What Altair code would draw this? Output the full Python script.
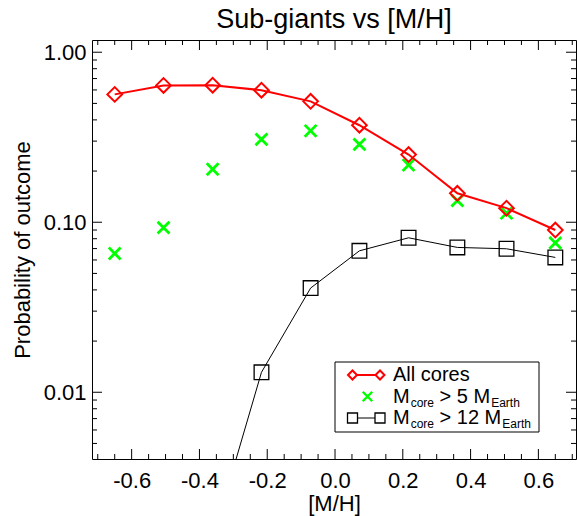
import altair as alt
import pandas as pd

# ---------------- data ----------------
mh = [-0.650, -0.506, -0.361, -0.217, -0.072, 0.072, 0.217, 0.361, 0.506, 0.650]
all_cores = [0.565, 0.638, 0.640, 0.598, 0.514, 0.372, 0.250, 0.148, 0.121, 0.090]
gt5 = [0.0655, 0.093, 0.205, 0.307, 0.345, 0.287, 0.217, 0.134, 0.113, 0.0756]
gt12 = [None, None, 0.00137, 0.0131, 0.041, 0.0679, 0.081, 0.0711, 0.0698, 0.0621]

x_major = [-0.6, -0.4, -0.2, 0.0, 0.2, 0.4, 0.6]
x_minor = [-0.70, -0.65, -0.55, -0.50, -0.45, -0.35, -0.30, -0.25, -0.15, -0.10, -0.05,
           0.05, 0.10, 0.15, 0.25, 0.30, 0.35, 0.45, 0.50, 0.55, 0.65, 0.70]
y_major = [0.01, 0.1, 1.0]
y_minor = [0.005, 0.006, 0.007, 0.008, 0.009,
           0.02, 0.03, 0.04, 0.05, 0.06, 0.07, 0.08, 0.09,
           0.2, 0.3, 0.4, 0.5, 0.6, 0.7, 0.8, 0.9]

X_DOMAIN = [-0.717, 0.711]
Y_DOMAIN = [0.00405, 1.18]

W, H = 484, 419
FONT = "Liberation Sans"

df_all = pd.DataFrame({"mh": mh, "p": all_cores})
df_5 = pd.DataFrame({"mh": mh, "p": gt5})
df_12 = pd.DataFrame({"mh": mh, "p": gt12}).dropna()

xs = alt.Scale(domain=X_DOMAIN, nice=False, zero=False)
ys = alt.Scale(type="log", domain=Y_DOMAIN, nice=False)

X = alt.X("mh:Q", scale=xs, axis=alt.Axis(
    values=x_major, ticks=False, domain=False, grid=False,
    labelExpr="replace(format(datum.value, '.1f'), '\u2212', '-')",
    labelFont=FONT, labelFontSize=22, labelColor="black", labelPadding=11,
    title="[M/H]", titleFont=FONT, titleFontSize=22, titleFontWeight="normal",
    titleColor="black", titleX=W / 2, titleY=44, titleBaseline="middle",
    titleAlign="center"))
Y = alt.Y("p:Q", scale=ys, axis=alt.Axis(
    values=y_major, format=".2f", ticks=False, domain=False, grid=False,
    labelFont=FONT, labelFontSize=22, labelColor="black", labelPadding=6,
    title="Probability of outcome", titleFont=FONT, titleFontSize=22,
    titleFontWeight="normal", titleColor="black", titleX=-70, titleY=H / 2,
    titleAngle=270, titleBaseline="middle", titleAlign="center"))

RED = "#ff0000"
GREEN = "#00ff00"
XSHAPE = "M-1,-1L1,1M1,-1L-1,1"

red_line = alt.Chart(df_all).mark_line(color=RED, strokeWidth=2, clip=True).encode(x=X, y=Y)
red_pts = alt.Chart(df_all).mark_point(shape="diamond", size=215, color=RED, strokeWidth=2,
                                       filled=False, opacity=1, clip=True).encode(x=X, y=Y)
green_pts = alt.Chart(df_5).mark_point(shape=XSHAPE, size=140, color=GREEN,
                                       strokeWidth=2.8, filled=False, opacity=1,
                                       clip=True).encode(x=X, y=Y)
black_line = alt.Chart(df_12).mark_line(color="black", strokeWidth=1, clip=True).encode(x=X, y=Y)
black_pts = alt.Chart(df_12).mark_point(shape="square", size=215, color="black", strokeWidth=1.3,
                                        filled=False, opacity=1, clip=True).encode(x=X, y=Y)

# ---------------- inward box ticks ----------------
def xticks(vals, length):
    d = pd.DataFrame({"mh": vals})
    bottom = alt.Chart(d).mark_rule(color="black", strokeWidth=1).encode(
        x=alt.X("mh:Q", scale=xs), y=alt.value(H), y2=alt.value(H - length))
    top = alt.Chart(d).mark_rule(color="black", strokeWidth=1).encode(
        x=alt.X("mh:Q", scale=xs), y=alt.value(0), y2=alt.value(length))
    return [bottom, top]


def yticks(vals, length):
    d = pd.DataFrame({"p": vals})
    left = alt.Chart(d).mark_rule(color="black", strokeWidth=1).encode(
        y=alt.Y("p:Q", scale=ys), x=alt.value(0), x2=alt.value(length))
    right = alt.Chart(d).mark_rule(color="black", strokeWidth=1).encode(
        y=alt.Y("p:Q", scale=ys), x=alt.value(W), x2=alt.value(W - length))
    return [left, right]


tick_layers = xticks(x_major, 10) + xticks(x_minor, 5) + yticks(y_major, 10) + yticks(y_minor, 5)

# ---------------- legend ----------------
one = pd.DataFrame({"k": [0]})
LX0, LX1, LY0, LY1 = 243, 447, 322, 392
rows = [335, 356.5, 378]
sx1, sx2, sxm = 260.5, 288, 275.5
TX = 301
MAIN, SUB = 20, 12


def sym(shape, x, y, size, stroke, sw):
    return alt.Chart(one).mark_point(shape=shape, size=size, filled=True, fill="white",
                                     stroke=stroke, strokeWidth=sw, opacity=1).encode(
        x=alt.value(x), y=alt.value(y))


legend = [
    alt.Chart(one).mark_rect(fill="white", stroke="black", strokeWidth=1).encode(
        x=alt.value(LX0), x2=alt.value(LX1), y=alt.value(LY0), y2=alt.value(LY1)),
    # row 1
    alt.Chart(one).mark_rule(color=RED, strokeWidth=2).encode(
        x=alt.value(sx1), x2=alt.value(sx2), y=alt.value(rows[0])),
    sym("diamond", sx1, rows[0], 80, RED, 2),
    sym("diamond", sx2, rows[0], 80, RED, 2),
    # row 2
    alt.Chart(one).mark_point(shape=XSHAPE, size=90, color=GREEN, strokeWidth=2.4,
                              filled=False, opacity=1).encode(x=alt.value(sxm), y=alt.value(rows[1])),
    # row 3
    alt.Chart(one).mark_rule(color="black", strokeWidth=1).encode(
        x=alt.value(sx1), x2=alt.value(sx2), y=alt.value(rows[2])),
    sym("square", sx1, rows[2], 100, "black", 1.3),
    sym("square", sx2, rows[2], 100, "black", 1.3),
]

# Arial/Liberation Sans advance widths (per em)
AW = {"M": 0.833, "c": 0.5, "o": 0.556, "r": 0.333, "e": 0.556, " ": 0.278, ">": 0.584,
      "5": 0.556, "1": 0.556, "2": 0.556, "E": 0.667, "a": 0.556, "t": 0.278, "h": 0.556}


def width(s, size):
    return sum(AW[c] for c in s) * size


def txt(s, x, y, size):
    return alt.Chart(one).mark_text(text=s, font=FONT, fontSize=size, align="left",
                                    baseline="middle", color="black").encode(
        x=alt.value(x), y=alt.value(y))


legend.append(txt("All cores", TX, rows[0], MAIN))
for r, num in ((rows[1], "> 5"), (rows[2], "> 12")):
    x = TX
    legend.append(txt("M", x, r, MAIN)); x += width("M", MAIN) + 1
    legend.append(txt("core", x, r + 6, SUB)); x += width("core", SUB)
    x += width(" ", MAIN)
    legend.append(txt(num, x, r, MAIN)); x += width(num + " ", MAIN)
    legend.append(txt("M", x, r, MAIN)); x += width("M", MAIN) + 1
    legend.append(txt("Earth", x, r + 6, SUB))

chart = alt.layer(
    *tick_layers, black_line, black_pts, green_pts, red_line, red_pts, *legend
).properties(
    width=W, height=H,
    title=alt.TitleParams("Sub-giants vs [M/H]", font=FONT, fontSize=27, fontWeight="normal",
                          color="black", anchor="middle", offset=6),
    autosize=alt.AutoSizeParams(type="none"),
    padding={"left": 92, "top": 40, "right": 1, "bottom": 57},
    background="white",
).configure_view(stroke="black", strokeWidth=1)

chart.save("out.html", embed_options={"renderer": "svg", "actions": False})
